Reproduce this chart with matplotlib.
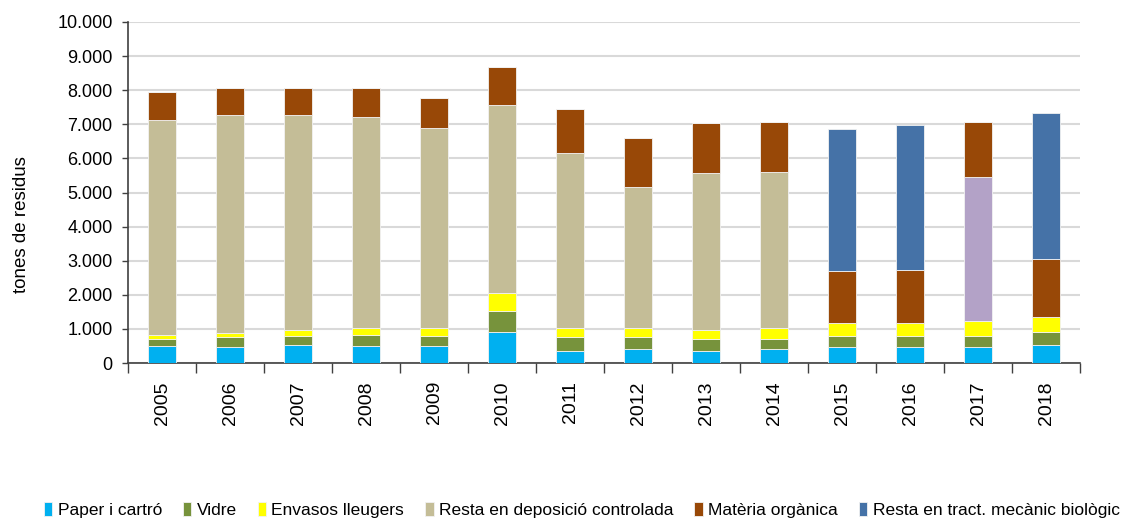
import numpy as np
import matplotlib.pyplot as plt
from matplotlib.ticker import FuncFormatter

plt.rcParams['font.family'] = ['Liberation Sans', 'DejaVu Sans']

# data (tones)
years = ["2005", "2006", "2007", "2008", "2009", "2010", "2011",
         "2012", "2013", "2014", "2015", "2016", "2017", "2018"]
paper = [485, 455, 525, 485, 485, 901, 366, 406, 366, 406, 455, 455, 455, 525]
vidre = [228, 297, 257, 347, 297, 614, 386, 356, 347, 307, 337, 337, 337, 386]
envasos = [119, 119, 198, 188, 238, 535, 268, 258, 267, 307, 386, 386, 426, 445]
deposicio = [6292, 6401, 6292, 6203, 5877, 5528, 5147, 4134, 4594, 4593, 0, 0, 0, 0]
altres = [0, 0, 0, 0, 0, 0, 0, 0, 0, 0, 0, 0, 4239, 0]
organica = [810, 800, 800, 849, 869, 1096, 1293, 1436, 1465, 1465, 1506, 1535, 1621, 1699]
tmb = [0, 0, 0, 0, 0, 0, 0, 0, 0, 0, 4170, 4258, 0, 4287]

series = [
    ("Paper i cartró", paper, "#00B0F0"),
    ("Vidre", vidre, "#77933C"),
    ("Envasos lleugers", envasos, "#FFFF00"),
    ("Resta en deposició controlada", deposicio, "#C4BD97"),
    (None, altres, "#B3A2C7"),
    ("Matèria orgànica", organica, "#984807"),
    ("Resta en tract. mecànic biològic", tmb, "#4572A7"),
]

fig = plt.figure(figsize=(11.35, 5.18), dpi=100)
ax = fig.add_axes([128 / 1135, 1 - 363 / 518, (1080 - 128) / 1135, (363 - 22) / 518])

x = np.arange(len(years))
bottom = np.zeros(len(years))
handles = []
labels = []
for name, vals, col in series:
    vals = np.array(vals, dtype=float)
    b = ax.bar(x, vals, 0.4, bottom=bottom, color=col, edgecolor="#f2f2f2",
               linewidth=0.6, zorder=3)
    bottom += vals
    if name:
        handles.append(b)
        labels.append(name)

ax.set_xlim(-0.5, len(years) - 0.5)
ax.set_ylim(0, 10000)
ax.set_yticks(np.arange(0, 10001, 1000))
ax.yaxis.set_major_formatter(FuncFormatter(lambda v, p: f"{int(v):,}".replace(",", ".")))
ax.grid(axis="y", color="#d9d9d9", linewidth=1.5, zorder=0)

ax.set_xticks(x)
ax.set_xticklabels(years, rotation=90, fontsize=14)
ax.tick_params(axis="x", which="major", length=0, pad=13)
ax.set_xticks(np.arange(-0.5, len(years), 1), minor=True)
ax.tick_params(axis="x", which="minor", length=7, color="#404040", width=1)
ax.tick_params(axis="y", labelsize=13, length=4, color="#404040", width=1, pad=7)

for s in ["top", "right"]:
    ax.spines[s].set_visible(False)
ax.spines["left"].set_color("#404040")
ax.spines["bottom"].set_color("#404040")
ax.spines["left"].set_linewidth(1.2)
ax.spines["bottom"].set_linewidth(1.2)

ax.set_ylabel("tones de residus", fontsize=13.5)
ax.yaxis.set_label_coords(-0.103, 0.405)

fig.legend(handles, labels, loc="lower left", bbox_to_anchor=(28 / 1135, -0.03),
           ncol=6, frameon=False, fontsize=12.5, handlelength=0.5, handleheight=0.8,
           handletextpad=0.3, columnspacing=1.2)

plt.savefig("out.png", dpi=100)
plt.close()
